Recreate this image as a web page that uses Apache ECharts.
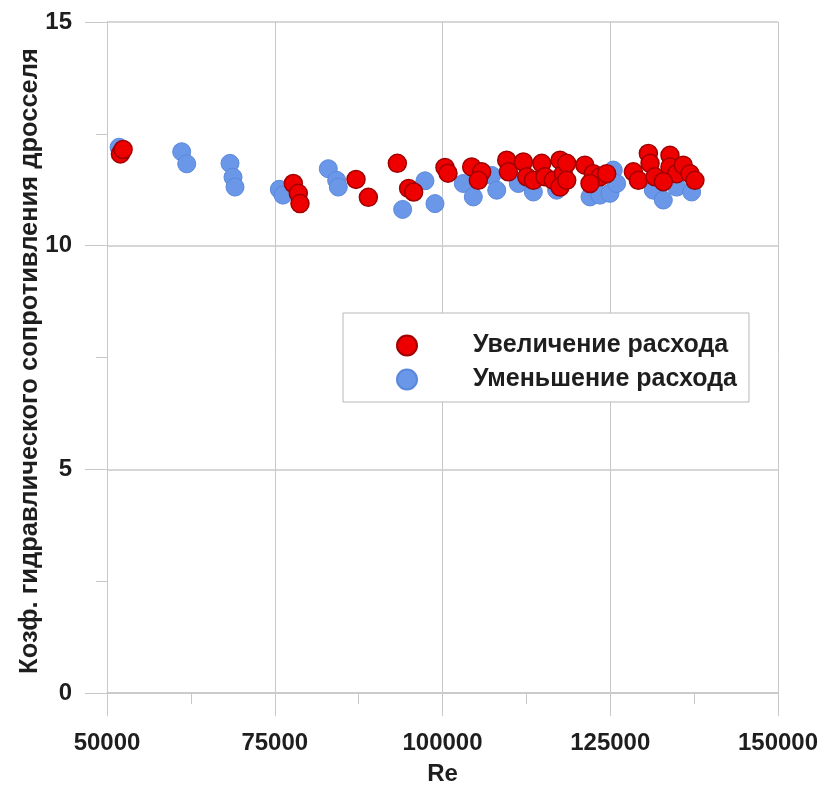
<!DOCTYPE html>
<html><head><meta charset="utf-8">
<script src="https://cdn.jsdelivr.net/npm/echarts@6/dist/echarts.min.js"></script>
<style>html,body{margin:0;padding:0;background:#fff}#c{width:827px;height:787px}</style>
</head><body><div id="c"></div>
<script>
const xTicks = [50000, 75000, 100000, 125000, 150000];
const yTicks = [0, 5, 10, 15];
const seriesNames = ['Увеличение расхода', 'Уменьшение расхода'];

const reInc = [52000, 52400, 77770, 78510, 78760, 87110, 88950, 93270, 94950, 95700,
  100370, 100820, 104350, 105840, 105340, 109570, 109820, 112050, 112550, 113540,
  114790, 115270, 116510, 117510, 118010, 117510, 118510, 118510, 121220, 122470,
  123470, 121980, 124470, 128440, 129190, 130680, 130930, 131670, 133900, 133900,
  134890, 135880, 136880, 137620, 132910];
const kInc = [12.05, 12.15, 11.39, 11.17, 10.94, 11.48, 11.08, 11.84, 11.28, 11.20,
  11.75, 11.62, 11.76, 11.65, 11.46, 11.91, 11.65, 11.87, 11.54, 11.46,
  11.84, 11.54, 11.46, 11.91, 11.61, 11.31, 11.84, 11.46, 11.80, 11.61,
  11.54, 11.39, 11.61, 11.65, 11.46, 12.06, 11.84, 11.54, 12.02, 11.76,
  11.61, 11.80, 11.61, 11.46, 11.43];

const reDec = [51800, 61130, 61880, 68330, 68780, 69075, 75680, 76230, 82980, 84230,
  84470, 94060, 97390, 98880, 103100, 104590, 107330, 108080, 111300, 113540,
  117010, 121980, 123470, 124960, 125450, 125950, 131420, 132910, 134890, 137130];
const kDec = [12.20, 12.10, 11.83, 11.84, 11.53, 11.31, 11.26, 11.13, 11.72, 11.46,
  11.31, 10.81, 11.45, 10.94, 11.39, 11.09, 11.57, 11.24, 11.39, 11.20,
  11.24, 11.09, 11.13, 11.17, 11.69, 11.39, 11.24, 11.02, 11.31, 11.20];

const zip = (a, b) => a.map((v, i) => [v, b[i]]);
const font = 'Liberation Sans, Arial, sans-serif';
const gridColor = '#c8c8c8';
const textColor = '#1e1e1e';

const chart = echarts.init(document.getElementById('c'), null, {renderer: 'canvas'});
chart.setOption({
  animation: false,
  backgroundColor: '#fff',
  grid: {left: 107, right: 49, top: 22, bottom: 94, containLabel: false, outerBoundsMode: 'none'},
  legend: {
    data: seriesNames,
    orient: 'vertical',
    left: 343, top: 313,
    padding: [20, 12, 10, 53],
    itemWidth: 20, itemHeight: 20, itemGap: 9,
    borderColor: '#b8b8b8', borderWidth: 1,
    backgroundColor: '#fff',
    icon: 'circle',
    textStyle: {fontFamily: font, fontSize: 25, fontWeight: 'bold', color: textColor, padding: [0, 0, 0, 51]}
  },
  xAxis: {
    type: 'value', min: xTicks[0], max: xTicks[xTicks.length - 1], interval: 25000,
    name: 'Re', nameLocation: 'middle', nameGap: 69, nameMoveOverlap: false,
    nameTextStyle: {fontFamily: font, fontSize: 24, fontWeight: 'bold', color: textColor},
    axisLine: {show: true, lineStyle: {color: gridColor, width: 1.5}},
    axisTick: {show: true, inside: false, length: 23, lineStyle: {color: gridColor}},
    minorTick: {show: true, splitNumber: 2, length: 11, lineStyle: {color: gridColor}},
    splitLine: {show: true, lineStyle: {color: gridColor, width: 1}},
    axisLabel: {margin: 38, fontFamily: font, fontSize: 24, fontWeight: 'bold', color: textColor,
      formatter: v => String(v)}
  },
  yAxis: {
    type: 'value', min: yTicks[0], max: yTicks[yTicks.length - 1], interval: 5,
    name: 'Козф. гидравлического сопротивления дросселя', nameLocation: 'middle', nameGap: 64,
    nameMoveOverlap: false,
    nameTextStyle: {fontFamily: font, fontSize: 25.5, fontWeight: 'bold', color: textColor, padding: [0, 7, 0, 0]},
    axisLine: {show: true, lineStyle: {color: gridColor, width: 1}},
    axisTick: {show: true, inside: false, length: 22, lineStyle: {color: gridColor}},
    minorTick: {show: true, splitNumber: 2, length: 11, lineStyle: {color: gridColor}},
    splitLine: {show: true, lineStyle: {color: gridColor, width: 1.5}},
    axisLabel: {margin: 35, fontFamily: font, fontSize: 24, fontWeight: 'bold', color: textColor,
      formatter: v => String(v)}
  },
  series: [
    {
      name: seriesNames[1], type: 'scatter', symbol: 'circle', symbolSize: 18,
      data: zip(reDec, kDec),
      itemStyle: {color: '#6a97e8', borderColor: '#5b88db', borderWidth: 1, opacity: 1}
    },
    {
      name: seriesNames[0], type: 'scatter', symbol: 'circle', symbolSize: 18,
      data: zip(reInc, kInc),
      itemStyle: {color: '#ee0000', borderColor: '#a00000', borderWidth: 1.5, opacity: 1}
    }
  ]
});
</script></body></html>
